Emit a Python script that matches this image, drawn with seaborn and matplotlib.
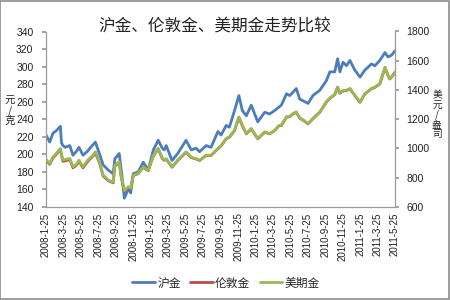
import matplotlib
matplotlib.use("Agg")
import matplotlib.pyplot as plt
import seaborn as sns
import pandas as pd
from matplotlib.lines import Line2D
from matplotlib.patches import Rectangle

# ---- data ----
dates = ["2008-01-25", "2008-02-07", "2008-02-18", "2008-03-01", "2008-03-15", "2008-03-19",
         "2008-03-24", "2008-03-31", "2008-04-17", "2008-04-28", "2008-05-09", "2008-05-19",
         "2008-06-02", "2008-06-16", "2008-06-26", "2008-07-07", "2008-07-15", "2008-07-31",
         "2008-08-11", "2008-08-29", "2008-09-15", "2008-09-21", "2008-10-06", "2008-10-14",
         "2008-10-24", "2008-11-07", "2008-11-15", "2008-11-24", "2008-12-11", "2008-12-29",
         "2009-01-15", "2009-02-02", "2009-02-19", "2009-03-05", "2009-03-12", "2009-03-19",
         "2009-04-08", "2009-04-28", "2009-05-27", "2009-06-14", "2009-07-01", "2009-07-13",
         "2009-08-05", "2009-08-22", "2009-09-15", "2009-09-26", "2009-10-14", "2009-10-25",
         "2009-11-12", "2009-11-27", "2009-12-09", "2009-12-23", "2010-01-09", "2010-02-01",
         "2010-02-25", "2010-03-14", "2010-04-01", "2010-04-16", "2010-04-24", "2010-05-12",
         "2010-05-23", "2010-06-04", "2010-06-15", "2010-06-27", "2010-07-09", "2010-07-26",
         "2010-08-12", "2010-09-05", "2010-09-28", "2010-10-10", "2010-10-27", "2010-11-06",
         "2010-11-14", "2010-11-25", "2010-12-07", "2010-12-19", "2011-01-05", "2011-01-23",
         "2011-02-09", "2011-03-04", "2011-03-16", "2011-04-02", "2011-04-20", "2011-05-01",
         "2011-05-07", "2011-05-13", "2011-05-25"]

shanghai = [222, 214, 224, 227, 232, 213, 210, 208, 210, 199, 203, 208,
            199, 203, 207, 211, 214, 199, 188, 182, 178, 195, 201, 180,
            150, 161, 156, 178, 180, 191, 182, 205, 216, 207, 205, 210,
            193, 201, 216, 205, 207, 203, 210, 208, 226, 222, 233, 231,
            250, 267, 250, 244, 256, 237, 248, 246, 250, 254, 256, 269,
            267, 271, 275, 263, 261, 258, 267, 273, 284, 294, 294, 309,
            294, 305, 301, 307, 296, 288, 296, 303, 301, 307, 316, 311,
            312, 313, 318]

london = [920, 892, 935, 960, 995, 955, 912, 915, 925, 868, 884, 912,
          868, 905, 928, 948, 972, 892, 812, 780, 765, 880, 905, 795,
          708, 735, 727, 815, 828, 872, 848, 950, 998, 932, 918, 928,
          872, 918, 975, 938, 928, 918, 952, 952, 998, 1018, 1066, 1077,
          1123, 1213, 1156, 1100, 1134, 1066, 1112, 1100, 1123, 1156, 1158, 1214,
          1218, 1237, 1248, 1208, 1193, 1168, 1203, 1248, 1318, 1343, 1368, 1418,
          1378, 1393, 1396, 1408, 1362, 1316, 1373, 1408, 1418, 1441, 1552, 1498,
          1475, 1488, 1520]

comex = [925, 898, 940, 966, 1000, 960, 920, 925, 932, 875, 890, 920,
         875, 915, 935, 954, 977, 898, 818, 784, 770, 886, 909, 800,
         712, 738, 730, 818, 830, 875, 850, 954, 1000, 935, 920, 930,
         875, 920, 977, 940, 930, 920, 954, 954, 1000, 1020, 1068, 1079,
         1125, 1215, 1158, 1102, 1136, 1068, 1114, 1102, 1125, 1158, 1160, 1216,
         1220, 1239, 1250, 1210, 1195, 1170, 1205, 1250, 1320, 1345, 1370, 1420,
         1380, 1395, 1398, 1410, 1364, 1318, 1375, 1410, 1420, 1443, 1556, 1500,
         1477, 1490, 1523]

tick_labels = ["2008-1-25", "2008-3-25", "2008-5-25", "2008-7-25", "2008-9-25",
               "2008-11-25", "2009-1-25", "2009-3-25", "2009-5-25", "2009-7-25",
               "2009-9-25", "2009-11-25", "2010-1-25", "2010-3-25", "2010-5-25",
               "2010-7-25", "2010-9-25", "2010-11-25", "2011-1-25", "2011-3-25",
               "2011-5-25"]
left_ticks = [140, 160, 180, 200, 220, 240, 260, 280, 300, 320, 340]
right_ticks = [600, 800, 1000, 1200, 1400, 1600, 1800]

series_names = ["沪金", "伦敦金", "美期金"]
colors = ["#4A7EBB", "#BE4B48", "#98B954"]

# ---- style ----
sns.set_theme(style="white")
plt.rcParams['font.family'] = ['Noto Sans CJK SC', 'DejaVu Sans']

W, H = 450, 300
fig = plt.figure(figsize=(W / 100, H / 100), dpi=100)
fig.patch.set_facecolor("white")

def fx(px):
    return px / W

def fy(py):
    return 1 - py / H

left_px, right_px, top_px, bottom_px = 46, 395, 31.5, 207
ax = fig.add_axes([fx(left_px), fy(bottom_px), fx(right_px - left_px), (bottom_px - top_px) / H])

df = pd.DataFrame({"date": pd.to_datetime(dates), "沪金": shanghai,
                   "伦敦金": london, "美期金": comex})

lw = 2.0
sns.lineplot(data=df, x="date", y="沪金", ax=ax, color=colors[0], linewidth=lw, legend=False)
ax2 = ax.twinx()
sns.lineplot(data=df, x="date", y="伦敦金", ax=ax2, color=colors[1], linewidth=lw, legend=False)
sns.lineplot(data=df, x="date", y="美期金", ax=ax2, color=colors[2], linewidth=lw, legend=False)

tick_pos = pd.to_datetime(tick_labels, format="%Y-%m-%d")
ax.set_xlim(tick_pos[0], tick_pos[-1])
ax.set_xticks(tick_pos)
ax.set_xticklabels(tick_labels, rotation=90, fontsize=7, family="Liberation Sans")
ax.set_xlabel("")
ax.set_ylabel("")
ax2.set_ylabel("")

ax.set_ylim(140, 340)
ax.set_yticks(left_ticks)
ax.set_yticklabels([str(v) for v in left_ticks], fontsize=7.5, family="Liberation Sans")
ax2.set_ylim(600, 1800)
ax2.set_yticks(right_ticks)
ax2.set_yticklabels([str(v) for v in right_ticks], fontsize=7.5, family="Liberation Sans")

spine_c = "#9A9A9A"
for a in (ax, ax2):
    a.patch.set_alpha(0)
    for s in a.spines.values():
        s.set_visible(False)
ax.spines["left"].set_visible(True)
ax.spines["bottom"].set_visible(True)
ax2.spines["right"].set_visible(True)
for s in (ax.spines["left"], ax.spines["bottom"], ax2.spines["right"]):
    s.set_color(spine_c)
    s.set_linewidth(0.9)

ax.tick_params(axis="y", left=True, right=False, direction="out", length=3,
               color=spine_c, pad=6, labelcolor="#222222")
ax.tick_params(axis="x", bottom=True, length=0, pad=4, labelcolor="#222222")
ax2.tick_params(axis="y", right=True, left=False, direction="out", length=3,
                color=spine_c, pad=5, labelcolor="#222222")
ax.grid(False)
ax2.grid(False)

# title and axis titles
fig.text(fx(215), fy(26), "沪金、伦敦金、美期金走势比较", ha="center", va="center",
         fontsize=12, color="#222222")
fig.text(fx(10), fy(111), "元\n/\n克", ha="center", va="center", fontsize=7.5,
         linespacing=0.95, color="#222222")
fig.text(fx(437), fy(115), "美\n元\n/\n盎\n司", ha="center", va="center", fontsize=7,
         linespacing=0.95, color="#222222")

handles = [Line2D([0], [0], color=c, lw=lw) for c in colors]
fig.legend(handles, series_names, loc="center", bbox_to_anchor=(fx(226), fy(283)),
           ncol=3, frameon=False, fontsize=8.5, handlelength=1.9, handletextpad=0.2,
           columnspacing=0.8, borderpad=0)

fig.add_artist(Rectangle((0.001, 0.002), 0.997, 0.995, transform=fig.transFigure,
                         fill=False, edgecolor="#8C8C8C", linewidth=1.2))

fig.savefig("out.png", dpi=100)
